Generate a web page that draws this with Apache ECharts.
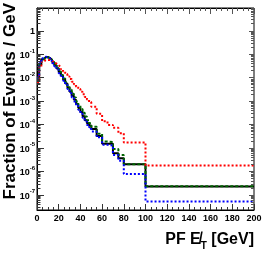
<!DOCTYPE html>
<html><head><meta charset="utf-8">
<script src="https://cdn.jsdelivr.net/npm/echarts@6/dist/echarts.min.js"></script>
<style>html,body{margin:0;padding:0;background:#fff}#c{width:266px;height:255px}</style>
</head><body><div id="c"></div>
<script>
// bin edges (GeV)
const binEdges = [0,2,4,6,8,10,12,14,16,18,20,22,24,26,28,30,32,34,36,38,40,42,44,46,48,50,55,60,65,70,75,80,100,200];
// fraction of events / GeV per bin
const blackVals = [7.9e-3,3.5e-2,6.0e-2,7.2e-2,7.4e-2,6.8e-2,5.6e-2,4.4e-2,3.3e-2,2.4e-2,1.7e-2,1.17e-2,8.1e-3,5.5e-3,3.7e-3,2.45e-3,1.66e-3,1.12e-3,7.4e-4,5.0e-4,3.4e-4,2.24e-4,1.51e-4,1.12e-4,8.9e-5,6.3e-5,3.2e-5,1.48e-5,1.48e-5,5.9e-6,3.6e-6,2.0e-6,2.24e-7];
const greenVals = [8.9e-3,3.5e-2,6.0e-2,7.1e-2,7.2e-2,6.6e-2,5.5e-2,4.4e-2,3.3e-2,2.45e-2,1.78e-2,1.26e-2,8.9e-3,6.2e-3,4.3e-3,2.95e-3,2.04e-3,1.38e-3,9.5e-4,6.6e-4,4.5e-4,3.1e-4,2.14e-4,1.51e-4,1.12e-4,7.9e-5,4.0e-5,1.86e-5,1.78e-5,8.9e-6,5.0e-6,2.0e-6,2.3e-7];
const redVals = [6.3e-3,2.8e-2,4.7e-2,5.4e-2,5.6e-2,5.5e-2,5.0e-2,4.5e-2,3.9e-2,3.3e-2,2.75e-2,2.24e-2,1.78e-2,1.41e-2,1.10e-2,8.5e-3,6.6e-3,5.1e-3,4.0e-3,3.2e-3,2.45e-3,1.91e-3,1.48e-3,1.15e-3,8.9e-4,5.6e-4,2.8e-4,1.35e-4,9.5e-5,7.1e-5,4.2e-5,1.7e-5,1.78e-6];
const blueVals = [1.0e-2,4.0e-2,6.6e-2,7.6e-2,7.4e-2,6.5e-2,5.2e-2,4.0e-2,2.95e-2,2.14e-2,1.51e-2,1.05e-2,7.2e-3,4.9e-3,3.2e-3,2.14e-3,1.41e-3,9.5e-4,6.3e-4,4.2e-4,2.8e-4,1.9e-4,1.32e-4,9.5e-5,7.6e-5,5.0e-5,2.8e-5,1.35e-5,1.26e-5,5.0e-6,2.8e-6,7.6e-7,5.2e-8];
// axes
const xMin = 0, xMax = 200, xStep = 20;
const yMin = 2.24e-8, yMax = 9.1;
const yTickExps = [-7,-6,-5,-4,-3,-2,-1,0];
const yTickLabels = ['10|-7','10|-6','10|-5','10|-4','10|-3','10|-2','10|-1','1'];
const yTitle = 'Fraction of Events / GeV';

function steps(vals){
  const pts = [];
  for (let i = 0; i < vals.length; i++) {
    pts.push([binEdges[i], vals[i]]);
    pts.push([binEdges[i+1], vals[i]]);
  }
  return pts;
}
// y ticks (major decades + log minor ticks)
const yTicks = [];
for (let d = -8; d <= 0; d++) {
  for (let m = 1; m <= 9; m++) {
    const v = m * Math.pow(10, d);
    if (v > yMin && v < yMax) yTicks.push([xMin, v, m === 1 ? 1 : 0, d]);
  }
}
const FONT = 'Liberation Sans, Arial, Helvetica, sans-serif';
const chart = echarts.init(document.getElementById('c'), null, {renderer:'canvas'});
function mkLine(name, vals, color, type, width){
  return {name, type:'line', data: steps(vals), symbol:'none', xAxisIndex:0, yAxisIndex:0,
    lineStyle:{color, width, type}, animation:false, clip:true};
}
const option = {
  backgroundColor:'#fff',
  animation:false,
  grid:{left:37, right:12, top:8, bottom:45, show:true, borderColor:'#000', borderWidth:1, backgroundColor:'transparent'},
  xAxis:[{
    type:'value', min:xMin, max:xMax, interval:xStep, position:'bottom',
    axisLine:{show:true, onZero:false, lineStyle:{color:'#000', width:1}},
    axisTick:{show:true, inside:true, length:6, lineStyle:{color:'#333'}},
    minorTick:{show:true, splitNumber:4, length:3, lineStyle:{color:'#333'}},
    axisLabel:{show:true, fontSize:9, fontWeight:'bold', color:'#000', fontFamily:FONT, margin:4},
    splitLine:{show:false}
  },{
    type:'value', min:xMin, max:xMax, interval:xStep, position:'top',
    axisLine:{show:true, onZero:false, lineStyle:{color:'#000', width:1}},
    axisTick:{show:true, inside:true, length:6, lineStyle:{color:'#555'}},
    minorTick:{show:true, splitNumber:4, length:3, lineStyle:{color:'#555'}},
    axisLabel:{show:false}, splitLine:{show:false}
  }],
  yAxis:[{
    type:'log', logBase:10, min:yMin, max:yMax,
    axisLine:{show:true, onZero:false, lineStyle:{color:'#000', width:1}},
    axisTick:{show:false}, axisLabel:{show:false}, splitLine:{show:false}, minorTick:{show:false}
  }],
  graphic:[{
    type:'text', x:10, y:3, rotation:Math.PI/2,
    style:{text:yTitle, font:'bold 17px '+FONT, fill:'#000', textAlign:'right', textVerticalAlign:'middle'}
  },{
    type:'text', right:12, top:232,
    style:{text:'{a|PF }{e|E\u0338}{t|T}{a| [GeV]}', fill:'#000',
      rich:{a:{fontSize:16, fontWeight:'bold', fontFamily:FONT, lineHeight:18, verticalAlign:'bottom'},
            e:{fontSize:16, fontWeight:'bold', fontFamily:FONT, lineHeight:18, verticalAlign:'bottom'},
            t:{fontSize:10, fontWeight:'bold', fontFamily:FONT, lineHeight:10, verticalAlign:'bottom', padding:[0,0,-3,0]}}}
  }],
  series:[
    mkLine('black', blackVals, '#000000', 'solid', 2),
    mkLine('green', greenVals, '#006400', [3,2], 2),
    mkLine('red', redVals, '#ff0000', [2,2], 2),
    mkLine('blue', blueVals, '#0000ff', [2,2], 2),
    {
      type:'custom', coordinateSystem:'cartesian2d', xAxisIndex:0, yAxisIndex:0, clip:false, silent:true,
      data: yTicks, z:10,
      renderItem:function(params, api){
        const cs = params.coordSys;
        const p = api.coord([xMin, api.value(1)]);
        const major = api.value(2) === 1;
        const len = major ? 7 : 3.5;
        const rlen = major ? 5 : 3;
        const y = Math.round(p[1]) + 0.5;
        const children = [
          {type:'line', shape:{x1:cs.x, y1:y, x2:cs.x+len, y2:y}, style:{stroke:'#333', lineWidth:1}},
          {type:'line', shape:{x1:cs.x+cs.width-rlen, y1:y, x2:cs.x+cs.width, y2:y}, style:{stroke:'#555', lineWidth:1}}
        ];
        if (major) {
          const idx = yTickExps.indexOf(api.value(3));
          if (idx >= 0) {
            const parts = yTickLabels[idx].split('|');
            const txt = parts.length > 1 ? '{b|'+parts[0]+'}{s|'+parts[1]+'}' : '{b|'+parts[0]+'}';
            children.push({type:'text', x:cs.x-2, y:p[1], style:{text:txt, textAlign:'right', textVerticalAlign:'middle', fill:'#000',
              rich:{b:{fontSize:9, fontFamily:FONT, fontWeight:'bold', lineHeight:12, verticalAlign:'bottom'},
                    s:{fontSize:6, fontFamily:FONT, fontWeight:'bold', lineHeight:12, verticalAlign:'top'}}}});
          }
        }
        return {type:'group', children};
      }
    }
  ]
};
chart.setOption(option);
</script></body></html>
